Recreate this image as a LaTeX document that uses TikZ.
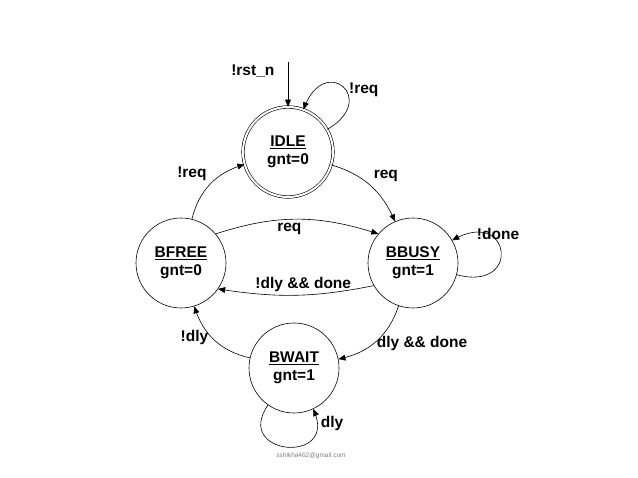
\documentclass[tikz,border=0pt]{standalone}
\usepackage{fontspec}
\setmainfont{Liberation Sans}
\usetikzlibrary{arrows}
\begin{document}
\begin{tikzpicture}[x=1pt,y=-1pt,->,>=triangle 45,semithick,font=\fontsize{15.5}{18}\selectfont\bfseries]
  \tikzstyle{every state}=[circle,draw=black,fill=white,minimum size=90pt,inner sep=0pt,align=center]
  \useasboundingbox (0,0) rectangle (638,478);

  \node[every state,double,double distance=2pt] (idle)  at (288,152) {\underline{IDLE}\\gnt=0};
  \node[every state]                            (bfree) at (181,263) {\underline{BFREE}\\gnt=0};
  \node[every state]                            (bbusy) at (413,263) {\underline{BBUSY}\\gnt=1};
  \node[every state]                            (bwait) at (294,368) {\underline{BWAIT}\\gnt=1};
  \coordinate (rst) at (288,62);

  \path
  (rst)   edge node[left=10pt,pos=0.2] {!rst\_n} (idle)
  (idle)  edge [out=30,in=70,looseness=5] node[right,pos=0.45] {!req} (idle)
  (idle)  edge [bend left=25] node[above right] {req} (bbusy)
  (bfree) edge [bend left=30] node[above left] {!req} (idle)
  (bfree.40) edge [bend left=18] node[below,pos=0.45] {req} (bbusy.140)
  (bbusy.-150) edge [bend left=10] node[above,pos=0.45] {!dly \&\& done} (bfree.-35)
  (bbusy) edge [out=-15,in=30,looseness=5] node[above,pos=0.6] {!done} (bbusy)
  (bbusy) edge [bend left=30] node[right,pos=0.55] {dly \&\& done} (bwait)
  (bwait) edge [bend left=30] node[left,pos=0.55] {!dly} (bfree)
  (bwait) edge [out=-125,in=-65,looseness=3.5] node[right,pos=0.9] {dly} (bwait)
  ;
  \node[font=\fontsize{6.5}{8}\selectfont\mdseries,text=gray] (mail) at (311,456) {sshikha462@gmail.com};
\end{tikzpicture}
\end{document}
